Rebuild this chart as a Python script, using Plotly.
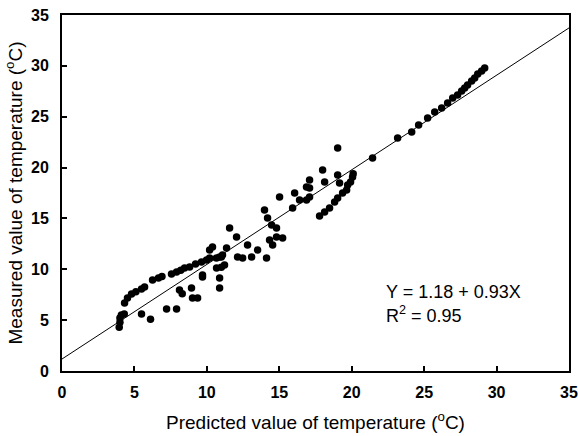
import plotly.graph_objects as go

# Predicted (x) and measured (y) temperatures
predicted = [
    3.95, 4.0, 4.0, 4.1, 4.3,
    4.32, 4.52, 4.8, 5.1, 5.49, 5.7, 6.25, 6.66, 6.9, 7.56, 7.91, 8.2, 8.46, 8.81,
    9.22, 9.63, 9.98, 10.19, 10.66, 11.0,
    5.49, 6.11, 7.22, 7.91, 8.11, 8.3, 8.94, 9.01, 9.36, 9.7, 10.88, 10.88, 11.0,
    10.39, 10.19, 10.88, 11.08, 11.36, 11.57, 12.05, 9.7, 10.67, 11.22, 12.12, 12.47,
    12.81, 13.09, 13.5, 14.12, 13.98, 14.19, 14.47, 14.33, 14.54, 14.81, 14.81, 15.23,
    15.02, 15.92, 16.06, 16.4, 16.88, 16.88, 17.09, 17.09, 17.09, 17.99, 18.13,
    19.03, 19.03, 19.16, 21.44,
    17.78, 18.13, 18.47, 18.82, 19.03, 19.37, 19.65, 19.72, 19.92, 20.06, 20.1,
    23.17, 24.14, 24.62, 25.24, 25.73, 26.21, 26.62, 26.97, 27.31, 27.59, 27.8, 28.0,
    28.28, 28.49, 28.7, 28.97, 29.18,
]
measured = [
    4.3, 4.8, 5.2, 5.5, 5.6,
    6.69, 7.18, 7.57, 7.8, 8.06, 8.26, 8.95, 9.14, 9.3, 9.54, 9.73, 9.9, 10.13, 10.23,
    10.52, 10.72, 10.91, 11.11, 11.1, 11.2,
    5.6, 5.1, 6.1, 6.1, 7.96, 7.6, 8.16, 7.18, 7.18, 9.44, 9.14, 8.16, 10.2,
    12.19, 11.9, 11.21, 11.41, 12.09, 14.06, 13.18, 9.24, 10.13, 10.42, 11.21, 11.11,
    12.39, 11.21, 11.9, 11.11, 15.83, 15.04, 14.36, 12.88, 12.39, 14.06, 13.18, 13.08,
    17.11, 16.03, 17.5, 16.81, 18.09, 16.81, 18.78, 18.0, 17.1, 19.76, 18.58,
    21.93, 19.27, 18.49, 20.94,
    15.24, 15.63, 16.03, 16.62, 17.01, 17.5, 17.8, 18.29, 18.58, 19.08, 19.4,
    22.91, 23.5, 24.19, 24.88, 25.47, 25.86, 26.35, 26.84, 27.14, 27.53, 27.83, 28.12,
    28.51, 28.81, 29.2, 29.5, 29.79,
]

intercept = 1.18
slope = 0.93
r_squared = 0.95
line_x = [0, 35]
line_y = [intercept + slope * v for v in line_x]

tick_vals = [0, 5, 10, 15, 20, 25, 30, 35]

font_family = "Liberation Sans, Arial, sans-serif"

fig = go.Figure()
fig.add_trace(go.Scatter(
    x=line_x, y=line_y, mode="lines",
    line=dict(color="black", width=1), showlegend=False, hoverinfo="skip",
))
fig.add_trace(go.Scatter(
    x=predicted, y=measured, mode="markers",
    marker=dict(color="black", size=7.5), showlegend=False,
))

axis_common = dict(
    range=[0, 35], tickvals=tick_vals, ticks="inside", ticklen=5, tickwidth=1.5,
    tickcolor="black", showline=True, linecolor="black", linewidth=2, mirror=True,
    showgrid=False, zeroline=False, automargin=False, ticklabeloverflow="allow",
    tickfont=dict(family=font_family, size=16, color="black", weight="bold"),
)

fig.update_layout(
    width=578, height=436,
    margin=dict(l=62, r=9, t=15, b=65),
    paper_bgcolor="white", plot_bgcolor="white",
    font=dict(family=font_family, color="black"),
    xaxis=dict(**axis_common, ticklabelstandoff=6,
               title=dict(text="Predicted value of temperature (<sup>o</sup>C)",
                          font=dict(family=font_family, size=19), standoff=15)),
    yaxis=dict(**axis_common, ticklabelstandoff=8,
               title=dict(text="Measured value of temperature (<sup>o</sup>C)",
                          font=dict(family=font_family, size=19), standoff=3)),
    annotations=[
        dict(x=22.2, y=7.8, xref="x", yref="y", xanchor="left", yanchor="middle",
             text=f"Y = {intercept} + {slope}X", showarrow=False,
             font=dict(family=font_family, size=18, color="black")),
        dict(x=22.2, y=5.6, xref="x", yref="y", xanchor="left", yanchor="middle",
             text=f"R<sup>2</sup> = {r_squared}", showarrow=False,
             font=dict(family=font_family, size=18, color="black")),
    ],
)

fig.write_html(
    "out.html",
    config={"displayModeBar": False},
    post_script="document.body.style.margin='0px';document.body.style.overflow='hidden';",
)
